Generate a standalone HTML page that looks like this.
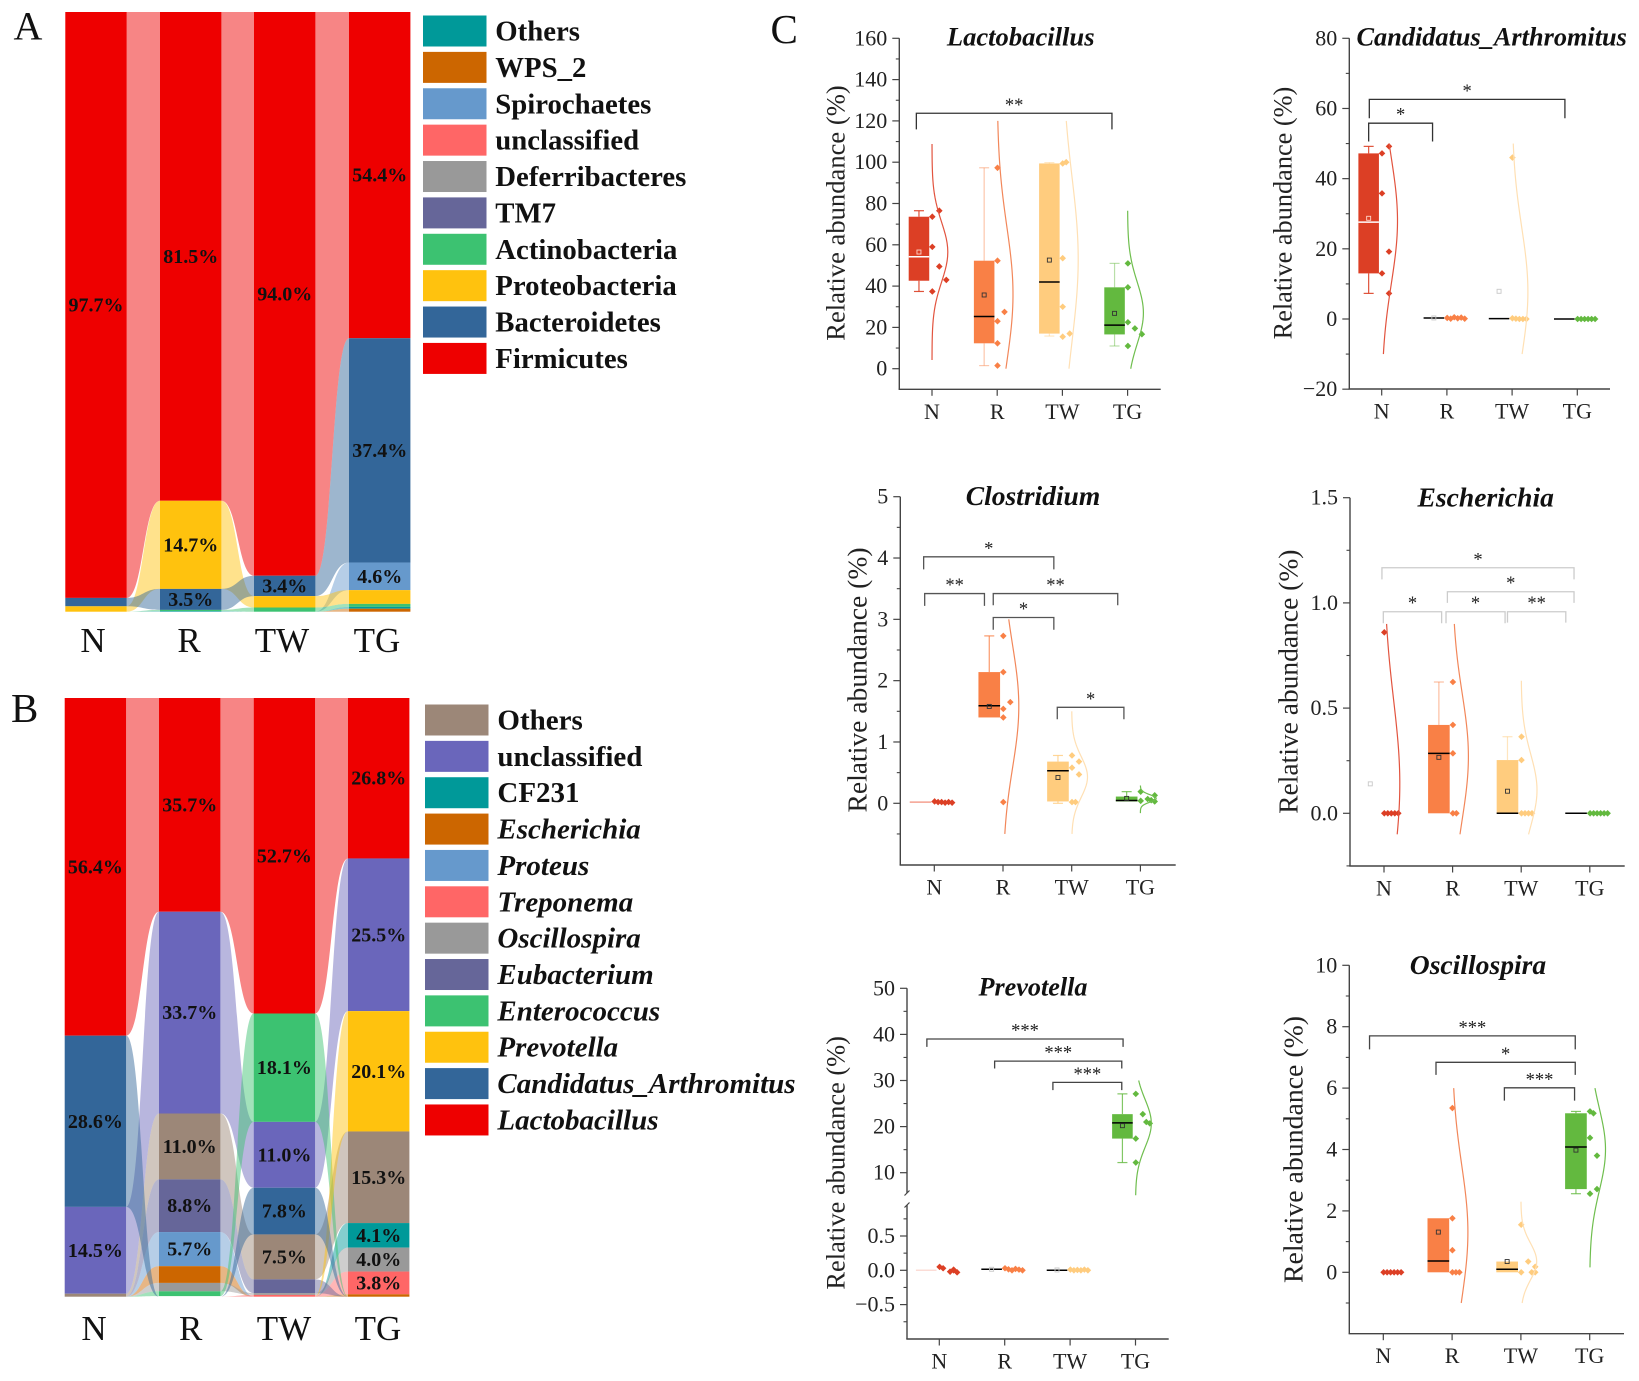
<!DOCTYPE html>
<html lang="en">
<head>
<meta charset="utf-8">
<title>Relative abundance of gut microbiota</title>
<style>
html,body{margin:0;padding:0;background:#fff;}
svg{display:block;font-family:"Liberation Serif",serif;}
</style>
</head>
<body>
<svg id="figure" xmlns="http://www.w3.org/2000/svg" width="1639" height="1381" viewBox="0 0 1639 1381">
<rect x="0" y="0" width="1639" height="1381" fill="#fff"/>
<text x="13.5" y="39.5" font-size="40" fill="#111">A</text>
<text x="11" y="722" font-size="41" fill="#111">B</text>
<text x="770.5" y="43" font-size="41" fill="#111">C</text>
</svg>
<script>
// ---------- shared ----------
const categories = ['N', 'R', 'TW', 'TG'];
const groupColors = ['#DC3F25', '#F98046', '#FFCC7E', '#63B93F'];
const curveColors = ['#E2543F', '#F2875A', '#FFE0B4', '#6FBE4E'];

// ---------- panel A: phylum composition ----------
const phylaA = ['Others', 'WPS_2', 'Spirochaetes', 'unclassified', 'Deferribacteres', 'TM7', 'Actinobacteria', 'Proteobacteria', 'Bacteroidetes', 'Firmicutes'];
const phylaAColors = ['#009999', '#CC6600', '#6699CC', '#FF6666', '#999999', '#666699', '#3CC271', '#FFC20E', '#336699', '#EE0000'];
const orderAN = ['Firmicutes', 'Bacteroidetes', 'Proteobacteria'];
const valuesAN = [97.7, 1.4, 0.9];
const orderAR = ['Firmicutes', 'Proteobacteria', 'Bacteroidetes', 'Actinobacteria', 'Others'];
const valuesAR = [81.5, 14.7, 3.5, 0.2, 0.1];
const orderATW = ['Firmicutes', 'Bacteroidetes', 'Proteobacteria', 'Actinobacteria'];
const valuesATW = [94.0, 3.4, 1.9, 0.7];
const orderATG = ['Firmicutes', 'Bacteroidetes', 'Spirochaetes', 'Proteobacteria', 'Actinobacteria', 'Others', 'WPS_2'];
const valuesATG = [54.4, 37.4, 4.6, 2.3, 0.5, 0.3, 0.5];

// ---------- panel B: genus composition ----------
const generaB = ['Others', 'unclassified', 'CF231', 'Escherichia', 'Proteus', 'Treponema', 'Oscillospira', 'Eubacterium', 'Enterococcus', 'Prevotella', 'Candidatus_Arthromitus', 'Lactobacillus'];
const generaBColors = ['#9C8778', '#6A66BB', '#009999', '#CC6600', '#6699CC', '#FF6666', '#999999', '#666699', '#3CC271', '#FFC20E', '#336699', '#EE0000'];
const generaBPlain = ['Others', 'unclassified', 'CF231'];
const orderBN = ['Lactobacillus', 'Candidatus_Arthromitus', 'unclassified', 'Others'];
const valuesBN = [56.4, 28.6, 14.5, 0.5];
const orderBR = ['Lactobacillus', 'unclassified', 'Others', 'Eubacterium', 'Proteus', 'Escherichia', 'Oscillospira', 'Enterococcus'];
const valuesBR = [35.7, 33.7, 11.0, 8.8, 5.7, 2.8, 1.4, 0.8];
const orderBTW = ['Lactobacillus', 'Enterococcus', 'unclassified', 'Candidatus_Arthromitus', 'Others', 'Eubacterium', 'Oscillospira', 'Treponema'];
const valuesBTW = [52.7, 18.1, 11.0, 7.8, 7.5, 2.3, 0.3, 0.3];
const orderBTG = ['Lactobacillus', 'unclassified', 'Prevotella', 'Others', 'CF231', 'Oscillospira', 'Treponema', 'Escherichia'];
const valuesBTG = [26.8, 25.5, 20.1, 15.3, 4.1, 4.0, 3.8, 0.4];

// ---------- panel C: Lactobacillus ----------
const lactoTicks = [0, 20, 40, 60, 80, 100, 120, 140, 160];
const lactoTickLabels = ['0', '20', '40', '60', '80', '100', '120', '140', '160'];
const lactoMinorTicks = [10, 30, 50, 70, 90, 110, 130, 150];
const lactoLow = [37.4, 1.5, 15.8, 11];
const lactoQ1 = [42.6, 12.3, 17, 16.6];
const lactoMedian = [54.2, 25.3, 42, 21.1];
const lactoQ3 = [73.6, 52.3, 99.4, 39.4];
const lactoHigh = [76.5, 97.3, 99.8, 51];
const lactoMean = [56.5, 35.7, 52.6, 26.8];
const lactoPoints = [[73.6, 59, 37.4, 76.5, 49.5, 43], [97.3, 52.3, 23, 1.5, 27.5, 12.3], [99.4, 53.5, 30, 15.5, 100, 17], [51, 22.5, 11, 39.4, 19.5, 16.7]];
const lactoCurveMean = [56.5, 36, 53, 27];
const lactoCurveSd = [14.5, 33, 40, 15];
const lactoCurveLow = [4.2, 0, 0, 0];
const lactoCurveHigh = [108.8, 120, 120, 76.5];
const lactoBrackets = [[-0.24, 2.76, 123.7, 115.9, '**']];

// ---------- panel C: Candidatus_Arthromitus ----------
const candidatusTicks = [-20, 0, 20, 40, 60, 80];
const candidatusTickLabels = ['\u221220', '0', '20', '40', '60', '80'];
const candidatusMinorTicks = [-10, 10, 30, 50, 70];
const candidatusLow = [7.3, 0.3, 0.1, 0];
const candidatusQ1 = [13, 0.3, 0.1, 0];
const candidatusMedian = [27.6, 0.3, 0.1, 0];
const candidatusQ3 = [47.2, 0.3, 0.1, 0];
const candidatusHigh = [49.2, 0.3, 0.1, 0];
const candidatusMean = [28.7, 0.3, 7.9, null];
const candidatusPoints = [[47.2, 35.8, 13, 7.3, 49.2, 19.2], [0.3, 0.1, 0.5, 0.2, 0.4, 0.1], [46, 0.2, 0.1, 0, 0, 0], [0, 0, 0, 0, 0, 0]];
const candidatusCurveMean = [28, null, 7.7, null];
const candidatusCurveSd = [18, null, 18.5, null];
const candidatusCurveLow = [-10, null, -10, null];
const candidatusCurveHigh = [50, null, 50, null];
const candidatusBrackets = [[-0.19, 2.81, 62.6, 57.2, '*'], [-0.2, 0.78, 55.8, 50.6, '*']];

// ---------- panel C: Clostridium ----------
const clostridiumTicks = [0, 1, 2, 3, 4, 5];
const clostridiumTickLabels = ['0', '1', '2', '3', '4', '5'];
const clostridiumMinorTicks = [-0.5, 0.5, 1.5, 2.5, 3.5, 4.5];
const clostridiumLow = [0.02, 1.4, 0, 0.03];
const clostridiumQ1 = [0.02, 1.4, 0.03, 0.03];
const clostridiumMedian = [0.02, 1.59, 0.53, 0.045];
const clostridiumQ3 = [0.02, 2.14, 0.68, 0.11];
const clostridiumHigh = [0.02, 2.73, 0.78, 0.19];
const clostridiumMean = [null, 1.58, 0.42, 0.08];
const clostridiumPoints = [[0.03, 0.02, 0.02, 0.01, 0.02, 0.01], [2.73, 2.14, 1.54, 1.4, 0.02, 1.65], [0.58, 0.02, 0.78, 0.02, 0.68, 0.47], [0.19, 0.07, 0.04, 0.13, 0.05, 0.03]];
const clostridiumCurveMean = [null, 1.58, 0.43, 0.08];
const clostridiumCurveSd = [null, 1.0, 0.33, 0.06];
const clostridiumCurveLow = [null, -0.5, -0.5, -0.16];
const clostridiumCurveHigh = [null, 3, 1.5, 0.29];
const clostridiumBrackets = [[-0.155, 1.74, 4.02, 3.815, '*'], [-0.14, 0.73, 3.42, 3.22, '**'], [0.858, 2.67, 3.42, 3.23, '**'], [0.858, 1.74, 3.03, 2.83, '*'], [1.79, 2.76, 1.565, 1.37, '*']];

// ---------- panel C: Escherichia ----------
const escherichiaTicks = [0, 0.5, 1, 1.5];
const escherichiaTickLabels = ['0.0', '0.5', '1.0', '1.5'];
const escherichiaMinorTicks = [-0.25, 0.25, 0.75, 1.25];
const escherichiaLow = [0, 0, 0, 0];
const escherichiaQ1 = [0, 0, 0, 0];
const escherichiaMedian = [0, 0.285, 0, 0];
const escherichiaQ3 = [0, 0.42, 0.253, 0];
const escherichiaHigh = [0, 0.624, 0.364, 0];
const escherichiaMean = [0.14, 0.266, 0.105, null];
const escherichiaPoints = [[0.86, 0, 0, 0, 0, 0], [0.624, 0.42, 0.285, 0, 0], [0.364, 0.253, 0, 0, 0, 0], [0, 0, 0, 0, 0, 0]];
const escherichiaCurveMean = [0.14, 0.27, 0.11, null];
const escherichiaCurveSd = [0.4, 0.3, 0.17, null];
const escherichiaCurveLow = [-0.1, -0.1, -0.1, null];
const escherichiaCurveHigh = [0.9, 0.9, 0.63, null];
const escherichiaBrackets = [[-0.03, 2.77, 1.167, 1.112, '*'], [0.924, 2.77, 1.053, 1.0, '*'], [-0.01, 0.84, 0.958, 0.903, '*'], [0.904, 1.765, 0.958, 0.903, '*'], [1.8, 2.65, 0.958, 0.906, '**']];

// ---------- panel C: Prevotella ----------
const prevotellaTicks = [-0.5, 0, 0.5, 10, 20, 30, 40, 50];
const prevotellaTickLabels = ['\u22120.5', '0.0', '0.5', '10', '20', '30', '40', '50'];
const prevotellaMinorTicks = [-0.75, -0.25, 0.25, 0.75, 15, 25, 35, 45];
const prevotellaLow = [0, 0.015, 0, 12.2];
const prevotellaQ1 = [0, 0.015, 0, 17.4];
const prevotellaMedian = [0, 0.015, 0, 20.8];
const prevotellaQ3 = [0, 0.015, 0, 22.7];
const prevotellaHigh = [0, 0.015, 0, 27.1];
const prevotellaMean = [null, 0.015, 0.005, 20.2];
const prevotellaPoints = [[0.05, 0.03, 0, -0.02, 0.01, -0.03], [0.03, 0.015, 0, 0.02, 0.01, 0], [0.01, 0, 0.005, 0, 0.01, 0], [27.1, 22.7, 12.2, 17.4, 20.7, 21]];
const prevotellaCurveMean = [null, null, null, 20.7];
const prevotellaCurveSd = [null, null, null, 5.2];
const prevotellaCurveLow = [null, null, null, 5.1];
const prevotellaCurveHigh = [null, null, null, 30];
const prevotellaBrackets = [[-0.19, 2.81, 39, 37.3, '***'], [0.846, 2.79, 34.2, 32.6, '***'], [1.737, 2.79, 29.6, 27.9, '***']];

// ---------- panel C: Oscillospira ----------
const oscillospiraTicks = [0, 2, 4, 6, 8, 10];
const oscillospiraTickLabels = ['0', '2', '4', '6', '8', '10'];
const oscillospiraMinorTicks = [-1, 1, 3, 5, 7, 9];
const oscillospiraLow = [0, 0, 0, 2.56];
const oscillospiraQ1 = [0, 0, 0, 2.71];
const oscillospiraMedian = [0, 0.37, 0.1, 4.08];
const oscillospiraQ3 = [0, 1.76, 0.35, 5.18];
const oscillospiraHigh = [0, 1.76, 0.35, 5.24];
const oscillospiraMean = [null, 1.31, 0.35, 3.98];
const oscillospiraPoints = [[0, 0, 0, 0, 0, 0], [5.35, 1.76, 0, 0.72, 0, 0], [1.55, 0, 0.35, 0.18, 0, 0], [5.24, 4.38, 3.8, 2.56, 5.18, 2.71]];
const oscillospiraCurveMean = [null, 1.3, 0.35, 4];
const oscillospiraCurveSd = [null, 2.2, 0.6, 1.35];
const oscillospiraCurveLow = [null, -1, -1, 0.16];
const oscillospiraCurveHigh = [null, 6, 2.3, 6];
const oscillospiraBrackets = [[-0.2, 2.79, 7.7, 7.26, '***'], [0.766, 2.79, 6.84, 6.43, '*'], [1.76, 2.78, 6.01, 5.59, '***']];

// ---------- helpers ----------
const figure = document.getElementById('figure');
const NS = 'http://www.w3.org/2000/svg';
function add(parent, tag, attrs, text) {
  const el = document.createElementNS(NS, tag);
  for (const k in attrs) el.setAttribute(k, attrs[k]);
  if (text !== undefined) el.textContent = text;
  parent.appendChild(el);
  return el;
}

// ---------- alluvial stacked bars ----------
function segmentsFor(order, values, top, height) {
  const bottom = top + height;
  const map = {};
  let cum = 0;
  order.forEach(function (taxon, i) {
    map[taxon] = { y0: top + cum / 100 * height, y1: top + (cum + values[i]) / 100 * height, v: values[i] };
    cum += values[i];
  });
  map.__bottom = { y0: bottom, y1: bottom, v: 0 };
  return map;
}
function drawAlluvial(panel, orders, values, taxa, colors, lefts, width, top, height, labelCenters, labelBaseline) {
  const g = add(figure, 'g', {});
  
  
  const colorOf = function (t) { return colors[taxa.indexOf(t)]; };
  const segs = orders.map(function (o, i) { return segmentsFor(o, values[i], top, height); });
  for (let c = 0; c < orders.length - 1; c++) {
    const x0 = lefts[c] + width, x1 = lefts[c + 1], xm = (x0 + x1) / 2;
    taxa.forEach(function (t) {
      if (!segs[c][t] && !segs[c + 1][t]) return;
      const a = segs[c][t] || segs[c].__bottom;
      const b = segs[c + 1][t] || segs[c + 1].__bottom;
      const d = 'M' + x0 + ',' + a.y0 + ' C' + xm + ',' + a.y0 + ' ' + xm + ',' + b.y0 + ' ' + x1 + ',' + b.y0 +
        ' L' + x1 + ',' + b.y1 + ' C' + xm + ',' + b.y1 + ' ' + xm + ',' + a.y1 + ' ' + x0 + ',' + a.y1 + ' Z';
      const ribbon = add(g, 'path', { d: d, fill: colorOf(t), 'fill-opacity': 0.48 });
      
      
    });
  }
  orders.forEach(function (order, c) {
    order.forEach(function (t) {
      const s = segs[c][t];
      const rect = add(g, 'rect', { x: lefts[c], y: s.y0, width: width, height: Math.max(0, s.y1 - s.y0), fill: colorOf(t) });
      
      
    });
    order.forEach(function (t) {
      const s = segs[c][t];
      if (s.v < 3) return;
      const pct = add(g, 'text', { x: lefts[c] + width / 2, y: (s.y0 + s.y1) / 2 + 6.5, 'text-anchor': 'middle', 'font-size': 20, 'font-weight': 'bold', fill: '#111' }, s.v.toFixed(1) + '%');
      
      
    });
    const cat = add(g, 'text', { x: labelCenters[c], y: labelBaseline, 'text-anchor': 'middle', 'font-size': 35, fill: '#111' }, categories[c]);
    
    
  });
}
function drawLegend(panel, names, colors, swatchX, firstCenter, pitch, textX, fontSize, plainNames) {
  const g = add(figure, 'g', {});
  
  
  names.forEach(function (name, i) {
    const cy = firstCenter + i * pitch;
    const swatch = add(g, 'rect', { x: swatchX, y: cy - 15.5, width: 63.5, height: 31, fill: colors[i] });
    
    
    const italic = plainNames && plainNames.indexOf(name) < 0;
    const label = add(g, 'text', { x: textX, y: cy + 9.5, 'font-size': fontSize, 'font-weight': 'bold', 'font-style': italic ? 'italic' : 'normal', fill: '#111' }, name);
    
    
  });
}

// ---------- box + swarm + curve charts ----------
function linearY(vA, pxA, vB, pxB) {
  const k = (pxB - pxA) / (vB - vA);
  return function (v) { return pxA + (v - vA) * k; };
}
function brokenY(lower, upper) {
  return function (v) {
    if (v >= 5) return upper(v);
    if (v <= 1) return lower(v);
    return lower(1) + (v - 1) / 4 * (upper(5) - lower(1));
  };
}
function drawBoxChart(c) {
  const g = add(figure, 'g', {});
  
  
  const y = c.y;
  const tx = function (i) { return c.tick0 + c.spacing * i; };
  const axisColor = '#444';
  const swarmGap = c.swarmGap || 22;
  const whiskerOpacity = c.whiskerOpacity || 0.8;

  // axes
  if (c.breakAt) {
    const upperAxis = add(g, 'line', { x1: c.axisX, x2: c.axisX, y1: c.axisTop, y2: c.breakAt - 7, stroke: axisColor, 'stroke-width': 1.4 });
    
    
    const lowerAxis = add(g, 'line', { x1: c.axisX, x2: c.axisX, y1: c.breakAt + 5, y2: c.axisBottom, stroke: axisColor, 'stroke-width': 1.4 });
    
    
    [-7, 5].forEach(function (off) {
      const slash = add(g, 'line', { x1: c.axisX - 2.5, x2: c.axisX + 2.5, y1: c.breakAt + off + 2.5, y2: c.breakAt + off - 2.5, stroke: axisColor, 'stroke-width': 1.2 });
      
      
    });
  } else {
    const yAxis = add(g, 'line', { x1: c.axisX, x2: c.axisX, y1: c.axisTop, y2: c.axisBottom, stroke: axisColor, 'stroke-width': 1.4 });
    
    
  }
  const xAxis = add(g, 'line', { x1: c.axisX - 0.7, x2: c.axisEnd, y1: c.axisBottom, y2: c.axisBottom, stroke: axisColor, 'stroke-width': 1.4 });
  
  

  c.ticks.forEach(function (v, i) {
    const py = y(v);
    const tick = add(g, 'line', { x1: c.axisX - 7, x2: c.axisX, y1: py, y2: py, stroke: axisColor, 'stroke-width': 1.2 });
    
    
    const label = add(g, 'text', { x: c.axisX - 12, y: py + 7, 'text-anchor': 'end', 'font-size': 22, fill: '#222' }, c.tickLabels[i]);
    
    
  });
  c.minorTicks.forEach(function (v) {
    const py = y(v);
    const tick = add(g, 'line', { x1: c.axisX - 3.5, x2: c.axisX, y1: py, y2: py, stroke: axisColor, 'stroke-width': 1.1 });
    
    
  });
  categories.forEach(function (cat, i) {
    const tick = add(g, 'line', { x1: tx(i), x2: tx(i), y1: c.axisBottom, y2: c.axisBottom + 6.5, stroke: axisColor, 'stroke-width': 1.2 });
    
    
    const label = add(g, 'text', { x: tx(i), y: c.axisBottom + 29.5, 'text-anchor': 'middle', 'font-size': 22, fill: '#222' }, cat);
    
    
  });

  // titles
  const title = add(g, 'text', { x: c.titleX, y: c.titleY, 'text-anchor': 'middle', 'font-size': c.titleSize, 'font-weight': 'bold', 'font-style': 'italic', fill: '#111' }, c.title);
  
  
  const yTitle = add(g, 'text', { x: 0, y: 0, transform: 'translate(' + c.yTitleX + ',' + c.yTitleY + ') rotate(-90)', 'text-anchor': 'middle', 'font-size': c.yTitleSize, fill: '#222' }, 'Relative abundance (%)');
  
  

  // groups
  const bw = c.spacing * 0.315;
  categories.forEach(function (cat, i) {
    const cx = tx(i) - c.spacing * 0.2;
    const color = groupColors[i];
    const capW = 5;
    const wh = [[c.high[i], c.q3[i]], [c.q1[i], c.low[i]]];
    wh.forEach(function (pair) {
      if (Math.abs(y(pair[0]) - y(pair[1])) < 0.5) return;
      const stem = add(g, 'line', { x1: cx, x2: cx, y1: y(pair[0]), y2: y(pair[1]), stroke: color, 'stroke-width': 1.2, 'stroke-opacity': i === 0 ? 0.9 : whiskerOpacity });
      
      
    });
    [c.low[i], c.high[i]].forEach(function (v, k) {
      const other = k === 0 ? c.q1[i] : c.q3[i];
      if (Math.abs(y(v) - y(other)) < 0.5) return;
      const cap = add(g, 'line', { x1: cx - capW, x2: cx + capW, y1: y(v), y2: y(v), stroke: color, 'stroke-width': 1.2, 'stroke-opacity': i === 0 ? 0.9 : whiskerOpacity });
      
      
    });
    const boxH = y(c.q1[i]) - y(c.q3[i]);
    if (boxH > 0.5) {
      const box = add(g, 'rect', { x: cx - bw / 2, y: y(c.q3[i]), width: bw, height: boxH, fill: color });
      
      
    }
    const medColor = i === 0 ? (boxH > 0.5 ? '#fff' : c.zeroLineN) : '#000';
    if (medColor) {
      const med = add(g, 'line', { x1: cx - bw / 2, x2: cx + bw / 2, y1: y(c.median[i]), y2: y(c.median[i]), stroke: medColor, 'stroke-width': 1.5 });
      
      
    }
    if (c.mean[i] !== null) {
      const inside = c.mean[i] <= c.q3[i] && c.mean[i] >= c.q1[i] && boxH > 0.5;
      const ms = inside ? (i === 0 ? '#FFD5C8' : '#333') : '#c8c8c8';
      const mean = add(g, 'rect', { x: cx - 2, y: y(c.mean[i]) - 2, width: 4, height: 4, fill: 'none', stroke: ms, 'stroke-width': 0.9 });
      
      
    }

    // swarm points
    const placed = [];
    c.points[i].forEach(function (v) {
      const py = y(v);
      let lane = 0;
      let tied = false;
      while (placed.some(function (p) {
        if (p.lane !== lane) return false;
        const d = Math.abs(p.py - py);
        if (d < 2) tied = true;
        return d < swarmGap;
      })) lane++;
      const px = tx(i) + 0.3 + lane * (tied ? 3.5 : 7);
      placed.push({ lane: lane, py: py });
      const s = 3.3;
      const pt = add(g, 'polygon', { points: [px, py - s, px + s, py, px, py + s, px - s, py].join(','), fill: color });
      
      
    });

    // normal curve
    if (c.curveMean[i] !== null) {
      const pts = [];
      const steps = 48;
      for (let k = 0; k <= steps; k++) {
        const v = c.curveLow[i] + (c.curveHigh[i] - c.curveLow[i]) * k / steps;
        const z = (v - c.curveMean[i]) / c.curveSd[i];
        pts.push((tx(i) + 15.8 * Math.exp(-z * z / 2)).toFixed(2) + ',' + y(v).toFixed(2));
      }
      const curve = add(g, 'polyline', { points: pts.join(' '), fill: 'none', stroke: curveColors[i], 'stroke-width': 1.2 });
      
      
    }
  });

  // brackets
  c.brackets.forEach(function (b) {
    const x1 = tx(b[0]), x2 = tx(b[1]), yt = y(b[2]), yl = y(b[3]);
    const path = add(g, 'path', { d: 'M' + x1 + ',' + yl + ' V' + yt + ' H' + x2 + ' V' + yl, fill: 'none', stroke: c.bracketColor, 'stroke-width': 1.3 });
    
    
    const star = add(g, 'text', { x: (x1 + x2) / 2, y: yt - 2.5, 'text-anchor': 'middle', 'font-size': 18.5, fill: '#222' }, b[4]);
    
    
  });
}

// ---------- draw ----------
drawAlluvial('phylum', [orderAN, orderAR, orderATW, orderATG], [valuesAN, valuesAR, valuesATW, valuesATG], phylaA, phylaAColors, [65.3, 160, 254, 349], 61.4, 12, 599.7, [93, 189, 282, 377], 652);
drawLegend('phylum', phylaA, phylaAColors, 423, 31, 36.38, 495.3, 28.75, null);
drawAlluvial('genus', [orderBN, orderBR, orderBTW, orderBTG], [valuesBN, valuesBR, valuesBTW, valuesBTG], generaB, generaBColors, [64.7, 159, 253.7, 348], 61.4, 698, 598.7, [94, 190.7, 284, 378], 1340);
drawLegend('genus', generaB, generaBColors, 425, 720, 36.36, 497.4, 29, generaBPlain);

drawBoxChart({ name: 'lactobacillus', title: 'Lactobacillus', titleSize: 26.6, yTitleSize: 26.6, titleX: 1020.7, titleY: 45.7, yTitleX: 844.3, yTitleY: 213, whiskerOpacity: 0.45,
  axisX: 899.3, axisEnd: 1160.7, axisTop: 38.3, axisBottom: 389.3, tick0: 932, spacing: 65.2, y: linearY(0, 368.7, 160, 38.3), bracketColor: '#333',
  ticks: lactoTicks, tickLabels: lactoTickLabels, minorTicks: lactoMinorTicks, low: lactoLow, q1: lactoQ1, median: lactoMedian, q3: lactoQ3, high: lactoHigh, mean: lactoMean,
  points: lactoPoints, curveMean: lactoCurveMean, curveSd: lactoCurveSd, curveLow: lactoCurveLow, curveHigh: lactoCurveHigh, brackets: lactoBrackets });
drawBoxChart({ name: 'candidatus-arthromitus', title: 'Candidatus_Arthromitus', titleSize: 26.3, yTitleSize: 26.3, titleX: 1491.7, titleY: 45.7, yTitleX: 1291.7, yTitleY: 213,
  axisX: 1349.3, axisEnd: 1610, axisTop: 38.3, axisBottom: 389, tick0: 1381.7, spacing: 65.2, y: linearY(0, 319, 80, 38.3), bracketColor: '#333',
  ticks: candidatusTicks, tickLabels: candidatusTickLabels, minorTicks: candidatusMinorTicks, low: candidatusLow, q1: candidatusQ1, median: candidatusMedian, q3: candidatusQ3, high: candidatusHigh, mean: candidatusMean,
  points: candidatusPoints, curveMean: candidatusCurveMean, curveSd: candidatusCurveSd, curveLow: candidatusCurveLow, curveHigh: candidatusCurveHigh, brackets: candidatusBrackets });
drawBoxChart({ name: 'clostridium', title: 'Clostridium', titleSize: 27.5, yTitleSize: 27.6, titleX: 1033, titleY: 505, yTitleX: 866.7, yTitleY: 680, zeroLineN: '#F4A090', swarmGap: 8,
  axisX: 900.3, axisEnd: 1175.7, axisTop: 496.7, axisBottom: 865, tick0: 934.3, spacing: 68.7, y: linearY(0, 803.3, 5, 496.7), bracketColor: '#555',
  ticks: clostridiumTicks, tickLabels: clostridiumTickLabels, minorTicks: clostridiumMinorTicks, low: clostridiumLow, q1: clostridiumQ1, median: clostridiumMedian, q3: clostridiumQ3, high: clostridiumHigh, mean: clostridiumMean,
  points: clostridiumPoints, curveMean: clostridiumCurveMean, curveSd: clostridiumCurveSd, curveLow: clostridiumCurveLow, curveHigh: clostridiumCurveHigh, brackets: clostridiumBrackets });
drawBoxChart({ name: 'escherichia', title: 'Escherichia', titleSize: 27.6, yTitleSize: 27.5, titleX: 1485.7, titleY: 506.7, yTitleX: 1297.7, yTitleY: 681.7, whiskerOpacity: 0.5,
  axisX: 1350, axisEnd: 1624.7, axisTop: 497.7, axisBottom: 866, tick0: 1384, spacing: 68.6, y: linearY(0, 813.3, 1.5, 497.7), bracketColor: '#ccc',
  ticks: escherichiaTicks, tickLabels: escherichiaTickLabels, minorTicks: escherichiaMinorTicks, low: escherichiaLow, q1: escherichiaQ1, median: escherichiaMedian, q3: escherichiaQ3, high: escherichiaHigh, mean: escherichiaMean,
  points: escherichiaPoints, curveMean: escherichiaCurveMean, curveSd: escherichiaCurveSd, curveLow: escherichiaCurveLow, curveHigh: escherichiaCurveHigh, brackets: escherichiaBrackets });
drawBoxChart({ name: 'prevotella', title: 'Prevotella', titleSize: 26.2, yTitleSize: 26.4, titleX: 1033, titleY: 995.7, yTitleX: 844.3, yTitleY: 1162.8, zeroLineN: '#FBDCD6', breakAt: 1200,
  axisX: 907, axisEnd: 1168.7, axisTop: 988.3, axisBottom: 1339, tick0: 939.3, spacing: 65.4, y: brokenY(linearY(0, 1270.3, 0.5, 1236), linearY(10, 1172.7, 50, 988.3)), bracketColor: '#444',
  ticks: prevotellaTicks, tickLabels: prevotellaTickLabels, minorTicks: prevotellaMinorTicks, low: prevotellaLow, q1: prevotellaQ1, median: prevotellaMedian, q3: prevotellaQ3, high: prevotellaHigh, mean: prevotellaMean,
  points: prevotellaPoints, curveMean: prevotellaCurveMean, curveSd: prevotellaCurveSd, curveLow: prevotellaCurveLow, curveHigh: prevotellaCurveHigh, brackets: prevotellaBrackets });
drawBoxChart({ name: 'oscillospira', title: 'Oscillospira', titleSize: 27.6, yTitleSize: 27.8, titleX: 1478, titleY: 974, yTitleX: 1302.7, yTitleY: 1149.5,
  axisX: 1349.3, axisEnd: 1624, axisTop: 965.3, axisBottom: 1333.7, tick0: 1383.3, spacing: 68.8, y: linearY(0, 1272.3, 10, 965.3), bracketColor: '#444',
  ticks: oscillospiraTicks, tickLabels: oscillospiraTickLabels, minorTicks: oscillospiraMinorTicks, low: oscillospiraLow, q1: oscillospiraQ1, median: oscillospiraMedian, q3: oscillospiraQ3, high: oscillospiraHigh, mean: oscillospiraMean,
  points: oscillospiraPoints, curveMean: oscillospiraCurveMean, curveSd: oscillospiraCurveSd, curveLow: oscillospiraCurveLow, curveHigh: oscillospiraCurveHigh, brackets: oscillospiraBrackets });
</script>
</body>
</html>
